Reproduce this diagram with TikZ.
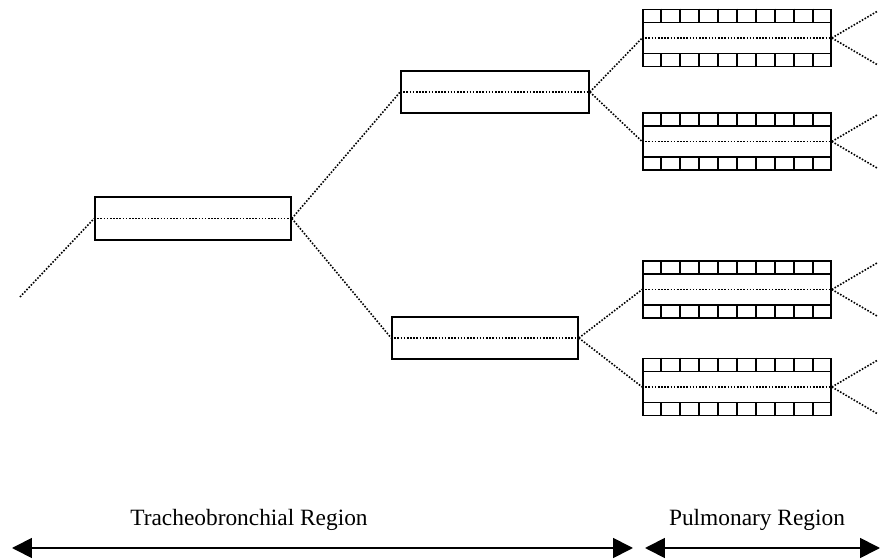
\documentclass[tikz,border=0pt]{standalone}
\usepackage{fontspec}
\setmainfont{Liberation Serif}
\usetikzlibrary{positioning, arrows.meta, calc}

\begin{document}
\begin{tikzpicture}[x=0.02cm, y=-0.02cm,
        airway/.style={draw, line width=1pt, inner sep=0pt,
            minimum width=3.76cm, minimum height=0.84cm},
        duct/.style={draw, line width=1pt, inner sep=0pt,
            minimum width=3.76cm, minimum height=1.14cm},
        axisln/.style={dash pattern=on 0.9pt off 0.9pt, line width=0.9pt},
        branch/.style={dash pattern=on 0.9pt off 0.9pt, line width=0.9pt},
        cell/.style={line width=0.8pt},
        region/.style={font=\fontsize{13.3}{16}\selectfont},
        regspan/.style={{Triangle[length=0.4cm, width=0.4cm]}-{Triangle[length=0.4cm, width=0.4cm]},
            line width=1pt}
    ]
    \useasboundingbox (0,0) rectangle (880,560);

    % === Trachea and bronchi ===
    \node[airway, minimum width=3.92cm, minimum height=0.86cm] (tr) at (193, 218.5) {};
    \node[airway] (bu) at (495, 92) {};
    \node[airway, minimum width=3.72cm] (bl) at (485, 338) {};

    % === Alveolar ducts (lined with cells) ===
    \node[duct] (d1) at (737, 38) {};
    \node[duct] (d2) at (737, 141.5) {};
    \node[duct] (d3) at (737, 289.5) {};
    \node[duct] (d4) at (737, 387) {};

    \foreach \n in {d1, d2, d3, d4} {
        \draw[cell] ([yshift=-0.28cm]\n.north west) -- ([yshift=-0.28cm]\n.north east);
        \draw[cell] ([yshift=0.28cm]\n.south west) -- ([yshift=0.28cm]\n.south east);
        \foreach \i in {1,...,9} {
            \draw[cell] ($(\n.north west)!\i/10!(\n.north east)$) -- ++(0,14);
            \draw[cell] ($(\n.south west)!\i/10!(\n.south east)$) -- ++(0,-14);
        }
    }

    % === Centre lines ===
    \foreach \n in {tr, bu, bl, d1, d2, d3, d4}
        \draw[axisln] (\n.west) -- (\n.east);

    % === Branching ===
    \coordinate (in) at (20, 297);
    \draw[branch] (in) -- (tr.west);
    \draw[branch] (tr.east) -- (bu.west);
    \draw[branch] (tr.east) -- (bl.west);
    \draw[branch] (bu.east) -- (d1.west);
    \draw[branch] (bu.east) -- (d2.west);
    \draw[branch] (bl.east) -- (d3.west);
    \draw[branch] (bl.east) -- (d4.west);
    \foreach \n in {d1, d2, d3, d4} {
        \coordinate (\n up) at ($(\n.east)+(46,-27)$);
        \coordinate (\n dn) at ($(\n.east)+(46,27)$);
        \draw[branch] (\n.east) -- (\n up);
        \draw[branch] (\n.east) -- (\n dn);
    }

    % === Regions ===
    \node[region] (tblbl) at (249, 520) {Tracheobronchial Region};
    \node[region] (pulbl) at (757, 520) {Pulmonary Region};
    \coordinate (tbl) at (12, 548);
    \coordinate (tbr) at (633, 548);
    \coordinate (pul) at (645, 548);
    \coordinate (pur) at (880, 548);
    \draw[regspan] (tbl) -- (tbr);
    \draw[regspan] (pul) -- (pur);

\end{tikzpicture}
\end{document}
